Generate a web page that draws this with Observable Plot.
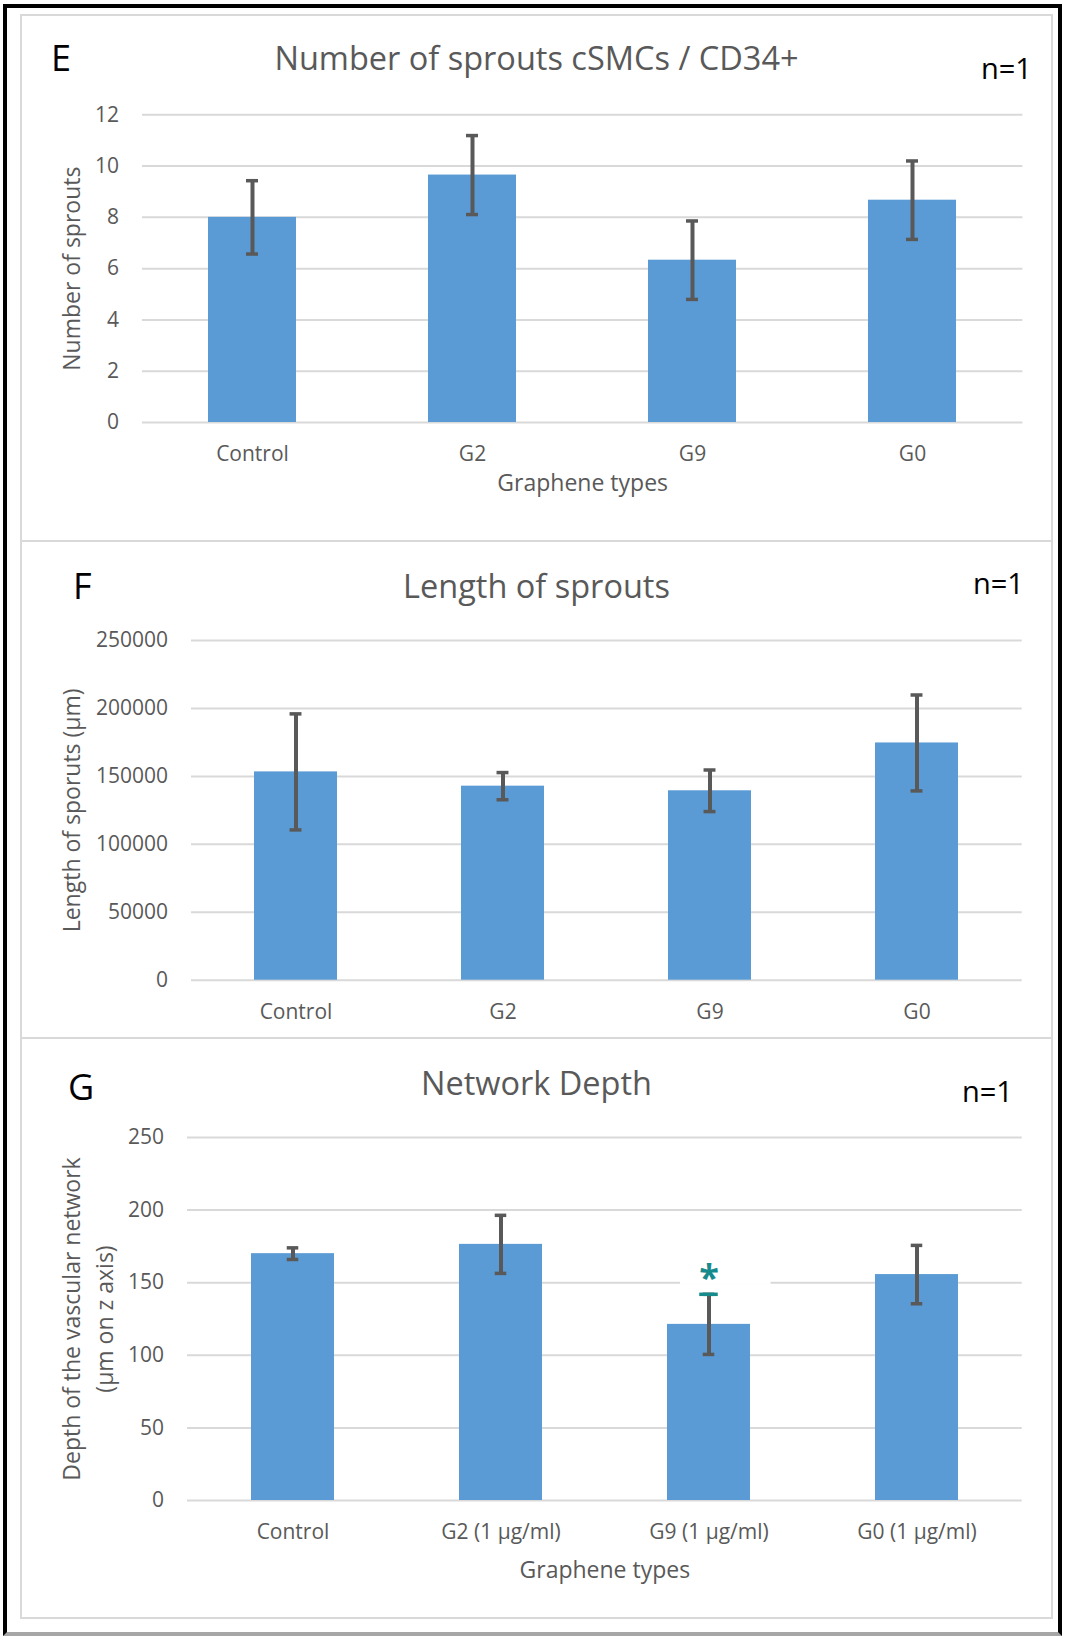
<!DOCTYPE html>
<html>
<head>
<meta charset="utf-8">
<script src="https://cdn.jsdelivr.net/npm/d3@7"></script>
<script src="https://cdn.jsdelivr.net/npm/@observablehq/plot@0.6"></script>
<style>
  body { margin: 0; background: #fff; }
  #page { position: relative; width: 1067px; height: 1636px; overflow: hidden; font-family: "Open Sans", sans-serif; background: #fff; }
  .frame { position: absolute; left: 3px; top: 4px; width: 1059px; height: 1632px; box-sizing: border-box; border: 4px solid #000; border-bottom-color: #a6a6a6; }
  .panel { position: absolute; box-sizing: border-box; border: 2px solid #d9d9d9; left: 20px; width: 1033px; }
  .chart { position: absolute; left: 0; }
  .title { position: absolute; left: 20px; width: 1033px; text-align: center; font-size: 32.5px; line-height: 32px; color: #595959; white-space: nowrap; }
  .letter { position: absolute; font-size: 36px; line-height: 36px; color: #000; }
  .nlab { position: absolute; font-size: 29px; line-height: 28px; color: #000; white-space: nowrap; }
</style>
</head>
<body>
<div id="page">
  <div class="frame"></div>
  <div class="panel" style="top:14px;height:528px;"></div>
  <div class="panel" style="top:540px;height:499px;"></div>
  <div class="panel" style="top:1037px;height:582px;"></div>
  <div id="chartE" class="chart" style="top:15px;"></div>
  <div id="chartF" class="chart" style="top:541px;"></div>
  <div id="chartG" class="chart" style="top:1038px;"></div>
  <div class="title" style="top:42px;">Number of sprouts cSMCs / CD34+</div>
  <div class="title" style="top:570px;">Length of sprouts</div>
  <div class="title" style="top:1067px;">Network Depth</div>
  <div class="letter" style="left:51px;top:40px;">E</div>
  <div class="letter" style="left:73px;top:568px;">F</div>
  <div class="letter" style="left:68px;top:1069px;">G</div>
  <div class="nlab" style="left:981px;top:54px;">n=1</div>
  <div class="nlab" style="left:973px;top:569px;">n=1</div>
  <div class="nlab" style="left:962px;top:1077px;">n=1</div>
</div>
<script>
// ---------- data ----------
const categoriesE = ["Control", "G2", "G9", "G0"];
const sproutCount = [8.0, 9.65, 6.33, 8.67];
const sproutCountErr = [1.43, 1.54, 1.53, 1.53];
const ticksE = [0, 2, 4, 6, 8, 10, 12];

const categoriesF = ["Control", "G2", "G9", "G0"];
const sproutLength = [153300, 142800, 139400, 174600];
const sproutLengthErr = [42700, 10000, 15300, 35300];
const ticksF = [0, 50000, 100000, 150000, 200000, 250000];

const categoriesG = ["Control", "G2 (1 µg/ml)", "G9 (1 µg/ml)", "G0 (1 µg/ml)"];
const networkDepth = [170, 176.4, 121.3, 155.6];
const networkDepthErr = [4, 20, 20.7, 20.1];
const ticksG = [0, 50, 100, 150, 200, 250];
const significantG = ["G9 (1 µg/ml)"];

// ---------- helpers ----------
const BAR = "#5b9bd5", ERR = "#595959", GRID = "#d9d9d9", TEXT = "#595959", TEAL = "#178a8c";

function makeChart(cfg) {
  const data = cfg.cats.map((c, i) => ({cat: c, val: cfg.vals[i], lo: cfg.vals[i] - cfg.errs[i], hi: cfg.vals[i] + cfg.errs[i]}));
  const W = 1067;
  const plotW = W - cfg.mL - cfg.mR;
  const bw = plotW / cfg.cats.length * 0.4;
  const capInset = (bw - 12) / 2;
  const marks = [
    Plot.gridY(cfg.ticks, {stroke: GRID, strokeOpacity: 1, strokeWidth: 2}),
  ];
  if (cfg.before) marks.push(...cfg.before(data, bw));
  marks.push(
    Plot.axisY(cfg.ticks, {tickSize: 0, tickPadding: 23.5, tickFormat: d3.format("d"), label: null, fontSize: 21, fill: TEXT}),
    Plot.axisX({tickSize: 0, tickPadding: 23.5, label: null, fontSize: 21, fill: TEXT}),
    Plot.barY(data, {x: "cat", y: "val", fill: BAR}),
    Plot.ruleX(data, {x: "cat", y1: "lo", y2: "hi", stroke: ERR, strokeWidth: 4}),
    Plot.tickY(data, {x: "cat", y: "hi", stroke: ERR, strokeWidth: 3.5, insetLeft: capInset, insetRight: capInset}),
    Plot.tickY(data, {x: "cat", y: "lo", stroke: ERR, strokeWidth: 3.5, insetLeft: capInset, insetRight: capInset})
  );
  cfg.yLabels.forEach(l => {
    marks.push(Plot.text([l.text], {text: d => d, frameAnchor: "left", rotate: -90, dx: l.dx, fontSize: 23, fill: TEXT, textAnchor: "middle", lineAnchor: "middle"}));
  });
  if (cfg.xLabel) {
    marks.push(Plot.text([cfg.xLabel], {text: d => d, frameAnchor: "bottom", dy: cfg.xLabelDy, fontSize: 23, fill: TEXT, textAnchor: "middle", lineAnchor: "middle"}));
  }
  if (cfg.after) marks.push(...cfg.after(data, bw));
  return Plot.plot({
    width: W,
    height: cfg.height,
    marginLeft: cfg.mL,
    marginRight: cfg.mR,
    marginTop: cfg.mT,
    marginBottom: cfg.mB,
    style: {fontFamily: "'Open Sans', sans-serif", fontSize: "21px", color: TEXT, background: "transparent", overflow: "visible"},
    x: {domain: cfg.cats, paddingInner: 0.6, paddingOuter: 0.3, label: null},
    y: {domain: cfg.domain, label: null},
    marks
  });
}

// ---------- chart E ----------
document.getElementById("chartE").append(makeChart({
  cats: categoriesE, vals: sproutCount, errs: sproutCountErr, ticks: ticksE, domain: [0, 12],
  height: 526, mL: 142, mR: 44.6, mT: 99.3, mB: 119,
  yLabels: [{text: "Number of sprouts", dx: -69.7}],
  xLabel: "Graphene types", xLabelDy: 61
}));

// ---------- chart F ----------
document.getElementById("chartF").append(makeChart({
  cats: categoriesF, vals: sproutLength, errs: sproutLengthErr, ticks: ticksF, domain: [0, 250000],
  height: 497, mL: 191, mR: 45.3, mT: 99, mB: 58.3,
  yLabels: [{text: "Length of sporuts (µm)", dx: -119}],
  xLabel: null
}));

// ---------- chart G ----------
document.getElementById("chartG").append(makeChart({
  cats: categoriesG, vals: networkDepth, errs: networkDepthErr, ticks: ticksG, domain: [0, 250],
  height: 580, mL: 187, mR: 45.3, mT: 99, mB: 118,
  yLabels: [{text: "Depth of the vascular network", dx: -114.7}, {text: "(µm on z axis)", dx: -82}],
  xLabel: "Graphene types", xLabelDy: 70,
  before: (data, bw) => {
    const sig = data.filter(d => significantG.includes(d.cat));
    return [Plot.barY(sig, {x: "cat", y1: 148.8, y2: 151.2, fill: "#ffffff", insetLeft: 13, insetRight: -20.5})];
  },
  after: (data, bw) => {
    const sig = data.filter(d => significantG.includes(d.cat));
    const inset = (bw - 19) / 2;
    return [
      Plot.tickY(sig, {x: "cat", y: "hi", stroke: TEAL, strokeWidth: 3.5, insetLeft: inset, insetRight: inset}),
      Plot.text(sig, {x: "cat", y: "hi", text: () => "*", dy: -16, fill: TEAL, fontSize: 36, fontWeight: "bold", lineAnchor: "middle"})
    ];
  }
}));
</script>
</body>
</html>
